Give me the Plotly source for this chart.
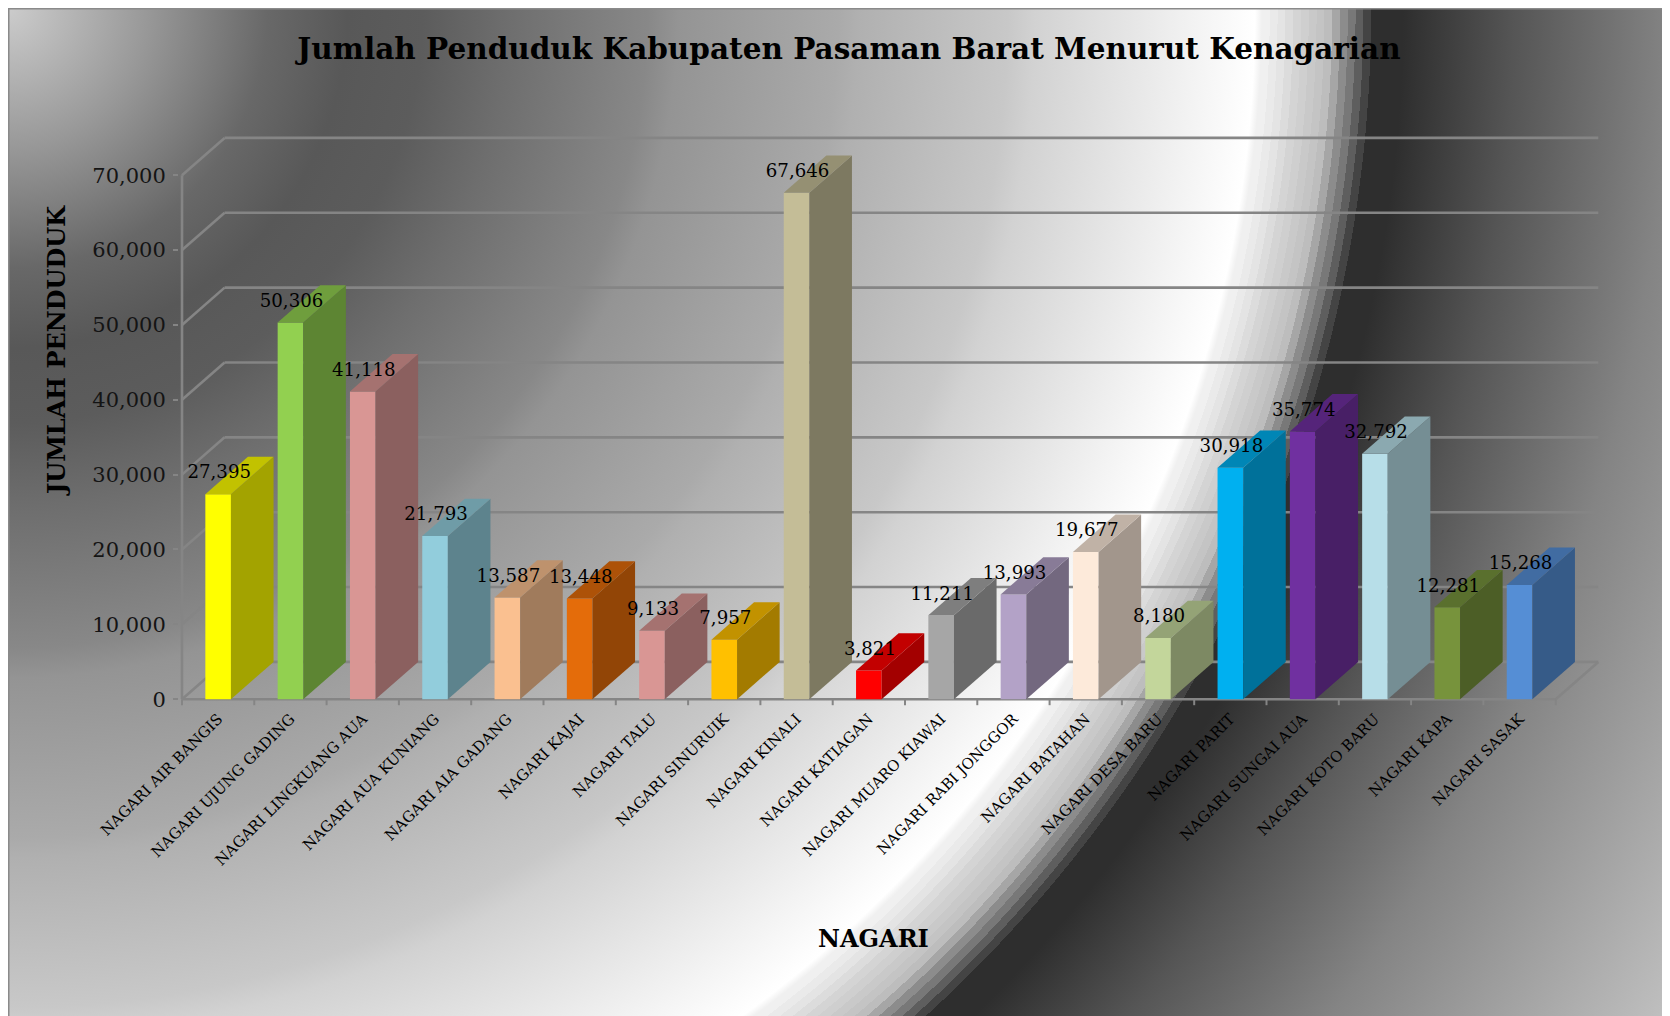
import base64
import plotly.graph_objects as go

# ---------- data ----------
categories = ["NAGARI AIR BANGIS", "NAGARI UJUNG GADING", "NAGARI LINGKUANG AUA", "NAGARI AUA KUNIANG",
              "NAGARI AIA GADANG", "NAGARI KAJAI", "NAGARI TALU", "NAGARI SINURUIK", "NAGARI KINALI",
              "NAGARI KATIAGAN", "NAGARI MUARO KIAWAI", "NAGARI RABI JONGGOR", "NAGARI BATAHAN",
              "NAGARI DESA BARU", "NAGARI PARIT", "NAGARI SUNGAI AUA", "NAGARI KOTO BARU", "NAGARI KAPA",
              "NAGARI SASAK"]
values = [27395, 50306, 41118, 21793, 13587, 13448, 9133, 7957, 67646, 3821, 11211, 13993, 19677, 8180,
          30918, 35774, 32792, 12281, 15268]
front_colors = ["#FFFF00", "#92D050", "#D99694", "#92CDDC", "#FAC090", "#E46C0A", "#D99694", "#FFC000",
                "#C4BD97", "#FF0000", "#A6A6A6", "#B3A2C7", "#FDEADA", "#C3D69B", "#00B0F0", "#7030A0",
                "#B7DEE8", "#77933C", "#558ED5"]
y_ticks = [0, 10000, 20000, 30000, 40000, 50000, 60000, 70000]

TITLE = "Jumlah Penduduk Kabupaten Pasaman Barat Menurut Kenagarian"
SERIF = "DejaVu Serif"

# ---------- geometry ----------
W, H = 1662, 1008          # page body margin supplies the 8px offset
AX_L, AX_B = 174.0, 691.2  # front-left axis corner, px in figure
CAT_PX, VAL_PX = 72.3, 524.0 / 70000
DEPTH_PX_X, DEPTH_PX_Y = 42.6, 37.3
PAD = 3.0
BAR_W = 0.354
dx = DEPTH_PX_X / CAT_PX
dy = DEPTH_PX_Y / VAL_PX
n = len(categories)
x_lo, x_hi = -0.5, n - 0.5
y_top = y_ticks[-1]

xr = [x_lo - PAD / CAT_PX, x_hi + dx + PAD / CAT_PX]
yr = [-PAD / VAL_PX, y_top + dy + PAD / VAL_PX]
dom_x = [(AX_L - PAD) / W, (AX_L + (xr[1] - x_lo) * CAT_PX) / W]
dom_y = [(H - AX_B - PAD) / H, (H - AX_B + (yr[1]) * VAL_PX) / H]

# ---------- background: radial rings (radius px, grey) ----------
smooth_rings = [(0, 0xCC), (140, 0x98), (260, 0x68), (340, 0x58), (415, 0x5C), (500, 0x6E), (640, 0x88), (670, 0x94),
                (830, 0xAA), (850, 0xB0), (1000, 0xC8), (1027, 0xD2), (1192, 0xF4), (1247, 0xFF)]
band_start, band_step = 1254.0, 7.8
band_greys = [0xF0, 0xEA, 0xE4, 0xDC, 0xD4, 0xCF, 0xC9, 0xC4, 0xBD, 0xA6, 0x8C, 0x78, 0x5E, 0x44]
tail_rings = [(1372, 0x2E), (1395, 0x2E), (1505, 0x55), (1662, 0x84), (1943, 0xC0)]
R = 2000
stop_list = list(smooth_rings)
for k, g in enumerate(band_greys):
    stop_list.append((band_start + k * band_step, g))
    stop_list.append((band_start + (k + 1) * band_step, g))
stop_list.append((band_start + len(band_greys) * band_step, tail_rings[0][1]))
stop_list += tail_rings
stops = "".join(f'<stop offset="{r / R:.5f}" stop-color="rgb({g},{g},{g})"/>' for r, g in stop_list)
svg = (f'<svg xmlns="http://www.w3.org/2000/svg" width="{W}" height="{H}">'
       f'<defs><radialGradient id="g" gradientUnits="userSpaceOnUse" cx="0" cy="0" r="{R}">{stops}'
       f'</radialGradient></defs><rect width="{W}" height="{H}" fill="url(#g)"/></svg>')
bg = "data:image/svg+xml;base64," + base64.b64encode(svg.encode()).decode()


def shade(hex_color, k):
    r, g, b = (int(hex_color[i:i + 2], 16) for i in (1, 3, 5))
    return f"rgb({round(r * k)},{round(g * k)},{round(b * k)})"


fig = go.Figure()

# front faces
fig.add_trace(go.Bar(x=list(range(n)), y=values, width=BAR_W, marker=dict(color=front_colors, line_width=0),
                     showlegend=False, hoverinfo="skip"))

# side and top faces, projected from the same values
for i, (v, c) in enumerate(zip(values, front_colors)):
    xl, xr_ = i - BAR_W / 2, i + BAR_W / 2
    fig.add_trace(go.Scatter(x=[xr_, xr_ + dx, xr_ + dx, xr_, xr_], y=[0, dy, v + dy, v, 0], mode="lines",
                             fill="toself", fillcolor=shade(c, 0.64), line=dict(width=0),
                             showlegend=False, hoverinfo="skip"))
    fig.add_trace(go.Scatter(x=[xl, xr_, xr_ + dx, xl + dx, xl], y=[v, v, v + dy, v + dy, v], mode="lines",
                             fill="toself", fillcolor=shade(c, 0.76), line=dict(width=0),
                             showlegend=False, hoverinfo="skip"))

# data labels
fig.add_trace(go.Scatter(x=[i + 0.015 for i in range(n)], y=[v + 2700 for v in values], mode="text",
                         text=[f"{v:,}" for v in values], textposition="middle center",
                         textfont=dict(family=SERIF, size=18.2, color="#000000"),
                         cliponaxis=False, showlegend=False, hoverinfo="skip"))

GRID = dict(color="#858585", width=2.6)
shapes = []
for t in y_ticks:
    if t > 0:
        shapes.append(dict(type="line", xref="x", yref="y", x0=x_lo, y0=t, x1=x_lo + dx, y1=t + dy, line=GRID, layer="below"))
    shapes.append(dict(type="line", xref="x", yref="y", x0=x_lo + dx, y0=t + dy, x1=x_hi + dx, y1=t + dy, line=GRID, layer="below"))
# floor, front axis lines
shapes.append(dict(type="line", xref="x", yref="y", x0=x_lo, y0=0, x1=x_lo + dx, y1=dy, line=GRID, layer="below"))
shapes.append(dict(type="line", xref="x", yref="y", x0=x_hi, y0=0, x1=x_hi + dx, y1=dy, line=GRID, layer="below"))
shapes.append(dict(type="line", xref="x", yref="y", x0=x_lo, y0=0, x1=x_lo, y1=y_top, line=GRID, layer="below"))
shapes.append(dict(type="line", xref="x", yref="y", x0=x_lo, y0=0, x1=x_hi, y1=0, line=GRID, layer="below"))
# category boundary ticks
y_px = (H - AX_B) / H
for k in range(n + 1):
    shapes.append(dict(type="line", xref="x", yref="paper", x0=x_lo + k, x1=x_lo + k, y0=y_px, y1=y_px - 6 / H,
                       line=dict(color="#858585", width=2), layer="below"))
# chart-area border
shapes.append(dict(type="line", xref="paper", yref="paper", x0=0, x1=1, y0=1, y1=1, line=dict(color="#8a8a8a", width=3), layer="below"))
shapes.append(dict(type="line", xref="paper", yref="paper", x0=0, x1=0, y0=0, y1=1, line=dict(color="#8a8a8a", width=3), layer="below"))

fig.update_layout(
    width=W, height=H, margin=dict(l=0, r=0, t=0, b=0), autosize=False,
    paper_bgcolor="white", plot_bgcolor="rgba(0,0,0,0)", showlegend=False,
    images=[dict(source=bg, xref="paper", yref="paper", x=0, y=1, sizex=1, sizey=1, xanchor="left", yanchor="top",
                 sizing="stretch", layer="below")],
    title=dict(text=f"<b>{TITLE}</b>", x=841 / W, y=1 - 41 / H, xref="paper", yref="paper", xanchor="center",
               yanchor="middle", font=dict(family=SERIF, size=29.5, color="#000000")),
    xaxis=dict(domain=dom_x, range=xr, type="linear", tickmode="array", tickvals=list(range(n)), ticktext=categories,
               tickangle=-45, ticks="", ticklabelstandoff=4, showgrid=False, zeroline=False, showline=False, automargin=False,
               tickfont=dict(family=SERIF, size=15, color="#000000")),
    yaxis=dict(domain=dom_y, range=yr, tickmode="array", tickvals=y_ticks, tickformat=",", ticks="outside", ticklen=5,
               tickwidth=2, tickcolor="#858585", ticklabelstandoff=3, showgrid=False, zeroline=False, showline=False, automargin=False,
               tickfont=dict(family=SERIF, size=21, color="#141414")),
    shapes=shapes,
    annotations=[
        dict(text="<b>JUMLAH PENDUDUK</b>", xref="paper", yref="paper", x=48 / W, y=1 - 343 / H, textangle=-90,
             xanchor="center", yanchor="middle", showarrow=False, font=dict(family=SERIF, size=24, color="#000000")),
        dict(text="<b>NAGARI</b>", xref="paper", yref="paper", x=865 / W, y=1 - 930 / H,
             xanchor="center", yanchor="middle", showarrow=False, font=dict(family=SERIF, size=24, color="#000000")),
    ],
)
fig.write_html("out.html", config=dict(displayModeBar=False))
